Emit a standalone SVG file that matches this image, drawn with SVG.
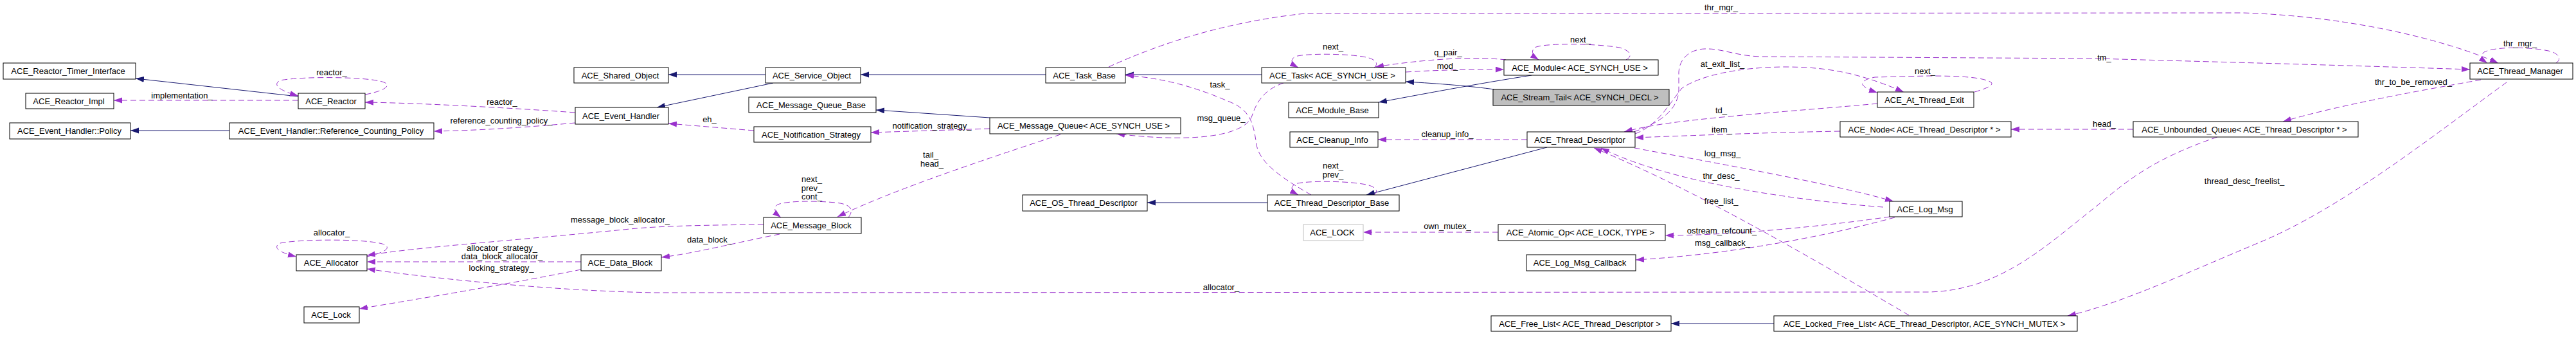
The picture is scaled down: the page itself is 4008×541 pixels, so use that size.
<svg xmlns="http://www.w3.org/2000/svg" width="4008" height="541" viewBox="0 0 4008 541">
<style>
.nd rect{fill:#ffffff;stroke:#000000;stroke-width:1}
.nd text,.lb{font-family:"Liberation Sans",Arial,Helvetica,sans-serif;font-size:13px;fill:#000000;text-anchor:middle}
.inh{fill:none;stroke:#191970;stroke-width:1}
.use{fill:none;stroke:#9a32cd;stroke-width:1;stroke-dasharray:9,5}
</style>
<defs>
<marker id="ah" markerUnits="userSpaceOnUse" markerWidth="14" markerHeight="10" refX="13" refY="4.5" orient="auto"><path d="M0,0 L13,4.5 L0,9 z" fill="#191970"/></marker>
<marker id="ap" markerUnits="userSpaceOnUse" markerWidth="14" markerHeight="10" refX="13" refY="4.5" orient="auto"><path d="M0,0 L13,4.5 L0,9 z" fill="#9a32cd"/></marker>
</defs>
<rect width="4008" height="541" fill="#ffffff"/>
<g id="edges">
<path class="inh" marker-end="url(#ah)" d="M464,150 L211,122"/>
<path class="inh" marker-end="url(#ah)" d="M357,203 L203,203"/>
<path class="inh" marker-end="url(#ah)" d="M1191,116 L1040,116"/>
<path class="inh" marker-end="url(#ah)" d="M1203,129 L1022,167"/>
<path class="inh" marker-end="url(#ah)" d="M1627,116 L1339,116"/>
<path class="inh" marker-end="url(#ah)" d="M1540,183 L1363,171"/>
<path class="inh" marker-end="url(#ah)" d="M1963,116 L1751,116"/>
<path class="inh" marker-end="url(#ah)" d="M2325,139 C2290,134 2240,130 2187,127"/>
<path class="inh" marker-end="url(#ah)" d="M2383,117 C2300,130 2220,145 2145,159"/>
<path class="inh" marker-end="url(#ah)" d="M2407,229 L2126,303"/>
<path class="inh" marker-end="url(#ah)" d="M1972,315 L1785,315"/>
<path class="inh" marker-end="url(#ah)" d="M2760,503 L2600,503"/>

<path class="use" marker-end="url(#ap)" d="M464,156 L177,156"/>
<path class="use" marker-end="url(#ap)" d="M568,147 C590,143 607,136 601,130 C590,119 470,118 436,125 C424,131 432,140 464,149"/>
<path class="use" marker-end="url(#ap)" d="M895,175 C800,168 650,160 568,159"/>
<path class="use" marker-end="url(#ap)" d="M895,191 C820,198 740,203 675,204"/>
<path class="use" marker-end="url(#ap)" d="M1173,203 L1040,192"/>
<path class="use" marker-end="url(#ap)" d="M1540,200 L1355,206"/>
<path class="use" marker-end="url(#ap)" d="M1650,209 C1570,236 1400,290 1303,337"/>
<path class="use" marker-end="url(#ap)" d="M1320,338 C1330,325 1322,317 1300,315 C1270,312 1225,312 1210,318 C1202,323 1206,331 1215,338"/>
<path class="use" marker-end="url(#ap)" d="M1188,349 C1100,350 1030,351 980,356 C800,374 650,384 571,397"/>
<path class="use" marker-end="url(#ap)" d="M1213,364 C1150,376 1080,394 1029,400"/>
<path class="use" marker-end="url(#ap)" d="M904,407 L571,407"/>
<path class="use" marker-end="url(#ap)" d="M904,419 C800,440 650,465 559,480"/>
<path class="use" marker-end="url(#ap)" d="M571,399 C592,394 607,388 601,382 C590,371 470,371 436,378 C424,384 432,392 461,399"/>
<path class="use" marker-end="url(#ap)" d="M3450,213 C3340,250 3300,290 3260,322 C3180,385 3110,452 3000,454 L1020,455 C850,452 650,430 571,418"/>
<path class="use" marker-end="url(#ap)" d="M2138,105 C2146,99 2141,91 2120,88 C2090,83 2030,83 2015,88 C2007,93 2009,99 2020,105"/>
<path class="use" marker-end="url(#ap)" d="M2343,93 C2300,88 2230,90 2140,104"/>
<path class="use" marker-end="url(#ap)" d="M2187,112 C2250,108 2300,108 2340,108"/>
<path class="use" marker-end="url(#ap)" d="M2530,93 C2541,87 2537,79 2520,74 C2480,67 2400,67 2388,74 C2381,80 2385,87 2394,93"/>
<path class="use" marker-end="url(#ap)" d="M2376,217 L2144,217"/>
<path class="use" marker-end="url(#ap)" d="M2138,303 C2146,297 2141,289 2120,286 C2090,281 2030,281 2015,286 C2007,291 2009,297 2020,303"/>
<path class="use" marker-end="url(#ap)" d="M2040,303 C2000,280 1960,255 1955,225 C1950,190 1945,170 1910,157 C1870,140 1820,122 1751,117"/>
<path class="use" marker-end="url(#ap)" d="M1997,129 C1965,140 1955,160 1948,180 C1940,205 1880,225 1737,208"/>
<path class="use" marker-end="url(#ap)" d="M2542,205 C2580,192 2611,172 2612,140 L2612,112 C2613,92 2628,77 2652,76 C2680,75 2700,87 2740,88 L3263,91 C3400,95 3600,100 3843,108"/>
<path class="use" marker-end="url(#ap)" d="M2544,208 C2580,195 2598,160 2617,137 C2645,118 2700,105 2775,104 C2840,104 2890,112 2962,143"/>
<path class="use" marker-end="url(#ap)" d="M2921,161 C2850,168 2700,178 2600,191 C2570,195 2550,199 2527,205"/>
<path class="use" marker-end="url(#ap)" d="M2863,204 C2750,206 2650,210 2544,214"/>
<path class="use" marker-end="url(#ap)" d="M2543,230 C2650,250 2850,285 2946,313"/>
<path class="use" marker-end="url(#ap)" d="M2930,322 C2800,312 2600,285 2491,230"/>
<path class="use" marker-end="url(#ap)" d="M2970,490 C2850,420 2650,300 2480,230"/>
<path class="use" marker-end="url(#ap)" d="M2940,337 C2850,350 2700,366 2591,366"/>
<path class="use" marker-end="url(#ap)" d="M2948,338 C2850,365 2700,395 2545,404"/>
<path class="use" marker-end="url(#ap)" d="M2331,361 L2121,361"/>
<path class="use" marker-end="url(#ap)" d="M3319,201 L3129,201"/>
<path class="use" marker-end="url(#ap)" d="M3860,124 C3800,135 3650,160 3552,189"/>
<path class="use" marker-end="url(#ap)" d="M3900,128 C3800,200 3650,320 3520,375 C3400,425 3300,472 3217,491"/>
<path class="use" marker-end="url(#ap)" d="M3977,98 C3986,92 3982,83 3965,79 C3930,72 3880,73 3865,81 C3859,87 3861,92 3870,98"/>
<path class="use" marker-end="url(#ap)" d="M1725,104 C1800,70 1900,35 2030,21 L3490,20 C3650,25 3800,60 3887,98"/>
<path class="use" marker-end="url(#ap)" d="M3072,143 C3090,138 3103,132 3098,128 C3085,120 3050,118 3000,118 L2917,120 C2893,125 2888,133 2921,144"/>
</g>
<g id="edge-labels">
<text class="lb" x="283" y="153">implementation_</text>
<text class="lb" x="516" y="117">reactor_</text>
<text class="lb" x="781" y="163">reactor_</text>
<text class="lb" x="780" y="192">reference_counting_policy_</text>
<text class="lb" x="1104" y="190">eh_</text>
<text class="lb" x="1450" y="200">notification_strategy_</text>
<text class="lb" x="1448" y="245">tail_</text>
<text class="lb" x="1450" y="259">head_</text>
<text class="lb" x="1263" y="283">next_</text>
<text class="lb" x="1263" y="297">prev_</text>
<text class="lb" x="1263" y="310">cont_</text>
<text class="lb" x="965" y="346">message_block_allocator_</text>
<text class="lb" x="1104" y="377">data_block_</text>
<text class="lb" x="781" y="390">allocator_strategy_</text>
<text class="lb" x="781" y="403">data_block_allocator_</text>
<text class="lb" x="780" y="421">locking_strategy_</text>
<text class="lb" x="516" y="366">allocator_</text>
<text class="lb" x="1900" y="451">allocator_</text>
<text class="lb" x="2074" y="77">next_</text>
<text class="lb" x="2253" y="86">q_pair_</text>
<text class="lb" x="2252" y="107">mod_</text>
<text class="lb" x="2459" y="66">next_</text>
<text class="lb" x="2252" y="213">cleanup_info_</text>
<text class="lb" x="2074" y="262">next_</text>
<text class="lb" x="2074" y="276">prev_</text>
<text class="lb" x="1898" y="136">task_</text>
<text class="lb" x="1900" y="188">msg_queue_</text>
<text class="lb" x="3274" y="94">tm_</text>
<text class="lb" x="2680" y="104">at_exit_list_</text>
<text class="lb" x="2678" y="176">td_</text>
<text class="lb" x="2679" y="206">item_</text>
<text class="lb" x="2680" y="243">log_msg_</text>
<text class="lb" x="2678" y="278">thr_desc_</text>
<text class="lb" x="2678" y="317">free_list_</text>
<text class="lb" x="2679" y="363">ostream_refcount_</text>
<text class="lb" x="2680" y="382">msg_callback_</text>
<text class="lb" x="2252" y="356">own_mutex_</text>
<text class="lb" x="3274" y="197">head_</text>
<text class="lb" x="3755" y="132">thr_to_be_removed_</text>
<text class="lb" x="3492" y="286">thread_desc_freelist_</text>
<text class="lb" x="3921" y="72">thr_mgr_</text>
<text class="lb" x="2678" y="16">thr_mgr_</text>
<text class="lb" x="2995" y="115">next_</text>
</g>
<g id="n1" class="nd"><rect x="5" y="98" width="206" height="25"/><text x="106" y="115">ACE_Reactor_Timer_Interface</text></g>
<g id="n2" class="nd"><rect x="40" y="145" width="137" height="24"/><text x="107" y="161.5">ACE_Reactor_Impl</text></g>
<g id="n3" class="nd"><rect x="15" y="191" width="188" height="25"/><text x="108" y="208">ACE_Event_Handler::Policy</text></g>
<g id="n4" class="nd"><rect x="464" y="145" width="104" height="24"/><text x="515" y="161.5">ACE_Reactor</text></g>
<g id="n5" class="nd"><rect x="357" y="191" width="318" height="25"/><text x="515" y="208">ACE_Event_Handler::Reference_Counting_Policy</text></g>
<g id="n6" class="nd"><rect x="461" y="396" width="110" height="25"/><text x="515" y="413">ACE_Allocator</text></g>
<g id="n7" class="nd"><rect x="473" y="477" width="86" height="25"/><text x="515" y="494">ACE_Lock</text></g>
<g id="n8" class="nd"><rect x="893" y="105" width="147" height="24"/><text x="965" y="121.5">ACE_Shared_Object</text></g>
<g id="n9" class="nd"><rect x="895" y="167" width="145" height="26"/><text x="966" y="184.5">ACE_Event_Handler</text></g>
<g id="n10" class="nd"><rect x="904" y="396" width="125" height="25"/><text x="965" y="413">ACE_Data_Block</text></g>
<g id="n11" class="nd"><rect x="1191" y="105" width="148" height="24"/><text x="1263" y="121.5">ACE_Service_Object</text></g>
<g id="n12" class="nd"><rect x="1165" y="151" width="198" height="24"/><text x="1262" y="167.5">ACE_Message_Queue_Base</text></g>
<g id="n13" class="nd"><rect x="1173" y="197" width="182" height="24"/><text x="1262" y="213.5">ACE_Notification_Strategy</text></g>
<g id="n14" class="nd"><rect x="1188" y="338" width="152" height="25"/><text x="1262" y="355">ACE_Message_Block</text></g>
<g id="n15" class="nd"><rect x="1627" y="105" width="124" height="24"/><text x="1687" y="121.5">ACE_Task_Base</text></g>
<g id="n16" class="nd"><rect x="1540" y="183" width="297" height="25"/><text x="1686" y="200">ACE_Message_Queue&lt; ACE_SYNCH_USE &gt;</text></g>
<g id="n17" class="nd"><rect x="1591" y="303" width="194" height="25"/><text x="1686" y="320">ACE_OS_Thread_Descriptor</text></g>
<g id="n18" class="nd"><rect x="1963" y="105" width="224" height="24"/><text x="2073" y="121.5">ACE_Task&lt; ACE_SYNCH_USE &gt;</text></g>
<g id="n19" class="nd"><rect x="1972" y="303" width="205" height="25"/><text x="2072" y="320">ACE_Thread_Descriptor_Base</text></g>
<g id="n20" class="nd"><rect x="2005" y="159" width="140" height="24"/><text x="2073" y="175.5">ACE_Module_Base</text></g>
<g id="n21" class="nd"><rect x="2007" y="205" width="137" height="24"/><text x="2073" y="221.5">ACE_Cleanup_Info</text></g>
<g id="n22" class="nd"><rect x="2028" y="349" width="93" height="25" style="stroke:#bfbfbf"/><text x="2073" y="366">ACE_LOCK</text></g>
<g id="n23" class="nd"><rect x="2340" y="93" width="240" height="24"/><text x="2458" y="109.5">ACE_Module&lt; ACE_SYNCH_USE &gt;</text></g>
<g id="n24" class="nd"><rect x="2323" y="139" width="274" height="25" style="fill:#bfbfbf"/><text x="2458" y="156">ACE_Stream_Tail&lt; ACE_SYNCH_DECL &gt;</text></g>
<g id="n25" class="nd"><rect x="2376" y="205" width="168" height="24"/><text x="2458" y="221.5">ACE_Thread_Descriptor</text></g>
<g id="n26" class="nd"><rect x="2331" y="349" width="260" height="25"/><text x="2459" y="366">ACE_Atomic_Op&lt; ACE_LOCK, TYPE &gt;</text></g>
<g id="n27" class="nd"><rect x="2375" y="396" width="170" height="25"/><text x="2458" y="413">ACE_Log_Msg_Callback</text></g>
<g id="n28" class="nd"><rect x="2320" y="491" width="280" height="24"/><text x="2458" y="507.5">ACE_Free_List&lt; ACE_Thread_Descriptor &gt;</text></g>
<g id="n29" class="nd"><rect x="2921" y="143" width="150" height="24"/><text x="2994" y="159.5">ACE_At_Thread_Exit</text></g>
<g id="n30" class="nd"><rect x="2863" y="189" width="266" height="24"/><text x="2994" y="205.5">ACE_Node&lt; ACE_Thread_Descriptor * &gt;</text></g>
<g id="n31" class="nd"><rect x="2940" y="313" width="113" height="24"/><text x="2995" y="329.5">ACE_Log_Msg</text></g>
<g id="n32" class="nd"><rect x="2760" y="491" width="472" height="24"/><text x="2994" y="507.5">ACE_Locked_Free_List&lt; ACE_Thread_Descriptor, ACE_SYNCH_MUTEX &gt;</text></g>
<g id="n33" class="nd"><rect x="3319" y="189" width="350" height="24"/><text x="3492" y="205.5">ACE_Unbounded_Queue&lt; ACE_Thread_Descriptor * &gt;</text></g>
<g id="n34" class="nd"><rect x="3843" y="98" width="160" height="25"/><text x="3921" y="115">ACE_Thread_Manager</text></g>
</svg>
